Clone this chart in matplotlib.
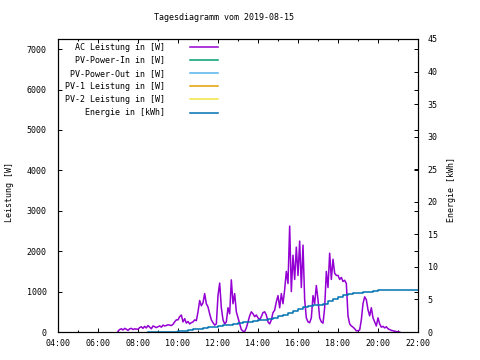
import numpy as np
import matplotlib
matplotlib.use("Agg")
import matplotlib.pyplot as plt
from matplotlib.lines import Line2D
from matplotlib.ticker import FuncFormatter

plt.rcParams['font.family'] = ['DejaVu Sans Mono']
plt.rcParams['font.size'] = 6

# AC power in W, one value every 5 minutes starting 07:00
ac_start = 7.0
ac_power = [
    20, 60, 80, 50, 90, 70, 40, 80, 90, 60, 80, 70,            # 07
    70, 110, 130, 90, 140, 100, 160, 120, 80, 150, 130, 110,   # 08
    130, 150, 120, 170, 150, 160, 180, 170, 160, 190, 250, 300,  # 09
    300, 380, 420, 250, 330, 220, 260, 200, 230, 250, 300, 280,  # 10
    500, 780, 650, 720, 950, 700, 620, 450, 300, 230, 170, 200,  # 11
    900, 1210, 600, 300, 200, 250, 600, 450, 1290, 700, 950, 500,  # 12
    350, 200, 60, 20, 10, 100, 250, 400, 500, 450, 380, 420,   # 13
    350, 300, 380, 480, 500, 420, 250, 200, 300, 480, 540, 750,  # 14
    900, 600, 950, 700, 1050, 1500, 1200, 2620, 1000, 1900, 1300, 2100,  # 15
    1400, 2250, 1100, 2150, 800, 350, 250, 230, 350, 900, 700, 1150,  # 16
    800, 350, 250, 220, 600, 1500, 1100, 1950, 1300, 1800, 1450, 1400,  # 17
    1400, 1300, 1350, 1250, 1280, 1200, 400, 200, 150, 120, 80, 30,  # 18
    30, 50, 300, 700, 870, 800, 550, 400, 600, 350, 250, 150,  # 19
    350, 200, 120, 140, 100, 130, 80, 60, 40, 30, 20, 10,      # 20
    5, 0,                                                      # 21
]
ac_hours = ac_start + np.arange(len(ac_power)) * 5 / 60

# energy in kWh, one value every 15 minutes starting 08:30
en_start = 8.5
energy = [
    0.0, 0.0, 0.0, 0.0, 0.0, 0.05,
    0.1, 0.2, 0.3, 0.4,
    0.5, 0.6, 0.7, 0.8,
    0.9, 1.0, 1.1, 1.3,
    1.4, 1.5, 1.6, 1.7,
    1.8, 1.9, 2.0, 2.2,
    2.4, 2.6, 2.9, 3.3,
    3.6, 3.9, 4.0, 4.1,
    4.2, 4.3, 4.7, 5.1,
    5.4, 5.7, 5.9, 5.95,
    6.0, 6.1, 6.2, 6.3,
    6.4, 6.45, 6.5, 6.5,
    6.5, 6.5, 6.5, 6.5,
    6.5,
]
en_hours = en_start + np.arange(len(energy)) * 15 / 60

# PV series have no data on this day
pv_in = []
pv_out = []
pv1 = []
pv2 = []

labels = ["AC Leistung in [W]", "PV-Power-In in [W]", "PV-Power-Out in [W]",
          "PV-1 Leistung in [W]", "PV-2 Leistung in [W]", "Energie in [kWh]"]
colors = ["#9400d3", "#009e73", "#56b4e9", "#e69f00", "#f0e442", "#0072b2"]

W, H = 480, 360
fig = plt.figure(figsize=(4.8, 3.6), dpi=100)
ax = fig.add_axes([58 / W, 28 / H, 360 / W, 293 / H])
ax2 = ax.twinx()

ax.plot(ac_hours, ac_power, color=colors[0], lw=1.1)
ax.plot(pv_in, pv_in, color=colors[1], lw=1.1)
ax.plot(pv_out, pv_out, color=colors[2], lw=1.1)
ax.plot(pv1, pv1, color=colors[3], lw=1.1)
ax.plot(pv2, pv2, color=colors[4], lw=1.1)
ax2.plot(en_hours, energy, color=colors[5], lw=1.1, drawstyle="steps-post")

ax.set_xlim(4, 22)
ax.set_ylim(0, 7250)
ax2.set_ylim(0, 45)
ax.set_xticks(range(4, 23, 2))
ax.set_xticks(range(5, 22, 2), minor=True)
ax.xaxis.set_major_formatter(FuncFormatter(lambda h, p: "%02d:00" % int(round(h))))
ax.set_yticks(range(0, 7001, 1000))
ax2.set_yticks(range(0, 46, 5))

ax.tick_params(axis="x", which="major", direction="in", length=3, width=0.7,
               top=True, pad=5)
ax.tick_params(axis="x", which="minor", direction="in", length=1.6, width=0.7,
               top=True)
ax.tick_params(axis="y", direction="in", length=3, width=0.7, right=True, pad=8)
ax2.tick_params(axis="y", direction="in", length=3, width=0.7, pad=7)
for a in (ax, ax2):
    for s in a.spines.values():
        s.set_linewidth(0.8)

fig.text(224 / W, 1 - 17 / H, "Tagesdiagramm vom 2019-08-15", ha="center", va="center")
fig.text(10 / W, 1 - 192 / H, "Leistung [W]", rotation=90, ha="center", va="center")
fig.text(452 / W, 1 - 190 / H, "Energie [kWh]", rotation=90, ha="center", va="center")

# gnuplot style key: right aligned text, line sample to the right
for i, (lab, c) in enumerate(zip(labels, colors)):
    yy = 1 - (47 + 13.1 * i) / H
    fig.text(165 / W, yy, lab, ha="right", va="center")
    fig.add_artist(Line2D([190 / W, 218 / W], [yy, yy], color=c, lw=1.1,
                          transform=fig.transFigure))

fig.savefig("out.png", dpi=100)
